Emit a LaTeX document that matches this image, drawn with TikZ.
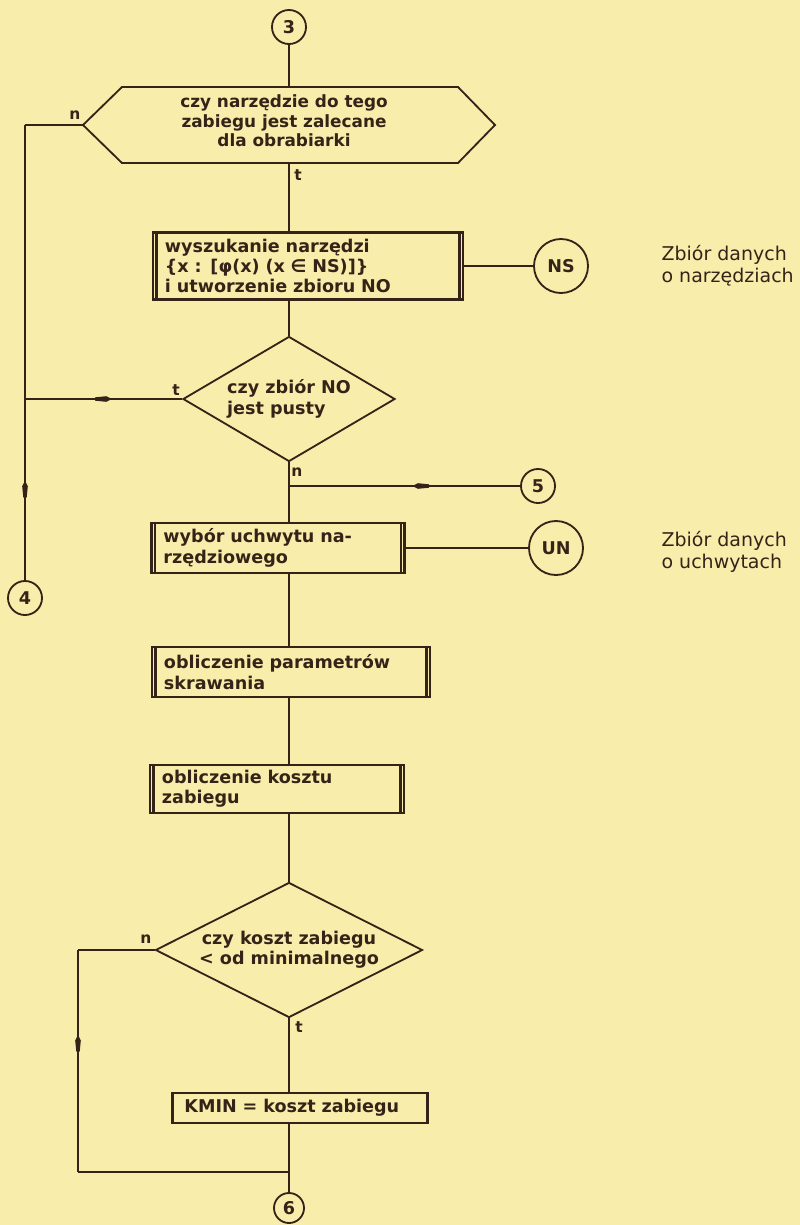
\documentclass[tikz,border=0pt]{standalone}
\usepackage{fontspec}
\setmainfont{DejaVu Sans}
\usetikzlibrary{shapes.geometric, decorations.markings}
\definecolor{paper}{RGB}{249,237,172}
\definecolor{ink}{RGB}{52,36,24}

\begin{document}
\begin{tikzpicture}[x=0.025cm, y=-0.025cm, color=ink, line width=1.3pt,
    proc/.style={draw, rectangle, line width=1.7pt, align=left, inner xsep=0.3cm, inner ysep=1pt,
      font=\bfseries\fontsize{12.5}{14.5}\selectfont},
    test/.style={draw, diamond, line width=1.3pt, inner sep=0pt,
      font=\bfseries\fontsize{12.5}{14.5}\selectfont},
    conn/.style={draw, circle, line width=1.3pt, inner sep=0pt, minimum size=0.85cm,
      font=\bfseries\fontsize{12.5}{12.5}\selectfont},
    store/.style={conn, minimum size=1.35cm},
    note/.style={anchor=west, align=left, font=\fontsize{13.5}{15.5}\selectfont},
    lbl/.style={inner sep=1pt, font=\bfseries\fontsize{11}{11}\selectfont},
    flow/.style={postaction=decorate, decoration={markings,
      mark=at position #1 with {\fill (-6pt,0pt) -- (-2pt,2pt) -- (6pt,1.2pt)
        -- (6pt,-1.2pt) -- (-2pt,-2pt) -- cycle;}}}]
    \fill[paper] (0,0) rectangle (800,1225);
    \useasboundingbox (0,0) rectangle (800,1225);

    % main column
    \node[conn] (c3) at (289, 27) {3};
    \coordinate (hexW) at (83, 125);
    \coordinate (hexN) at (289, 87);
    \coordinate (hexS) at (289, 163);
    \draw (hexW) -- (122, 87) -- (458, 87) -- (495, 125)
      -- (458, 163) -- (122, 163) -- cycle;
    \node[align=center, font=\bfseries\fontsize{12}{14}\selectfont] (hex) at (284, 121)
      {czy narzędzie do tego\\zabiegu jest zalecane\\dla obrabiarki};
    \node[proc, minimum width=7.75cm, text width=7.15cm, minimum height=1.675cm] (box1) at (308, 266)
      {wyszukanie narzędzi\\\{x : [φ(x) (x ∈ NS)]\}\\i utworzenie zbioru NO};
    \node[store] (NS) at (561, 266) {NS};
    \node[test, aspect=1.7, minimum width=5.3cm, minimum height=3.125cm, align=left] (dia1) at (289, 399)
      {czy zbiór NO\\jest pusty};
    \node[conn] (c5) at (538, 486) {5};
    \node[proc, minimum width=6.325cm, text width=5.725cm, minimum height=1.25cm] (box2) at (278, 548)
      {wybór uchwytu na-\\rzędziowego};
    \node[store] (UN) at (556, 548) {UN};
    \node[conn] (c4) at (25, 598) {4};
    \node[proc, minimum width=6.95cm, text width=6.35cm, minimum height=1.25cm] (box3) at (291, 672)
      {obliczenie parametrów\\skrawania};
    \node[proc, minimum width=6.35cm, text width=5.75cm, minimum height=1.2cm] (box4) at (277, 789)
      {obliczenie kosztu\\zabiegu};
    \node[test, aspect=2, minimum width=6.675cm, minimum height=3.375cm, align=center] (dia2) at (289, 950)
      {czy koszt zabiegu\\< od minimalnego};
    \node[proc, minimum width=6.375cm, text width=5.775cm, minimum height=0.75cm] (kmin) at (300, 1108)
      {KMIN = koszt zabiegu};
    \node[conn, minimum size=0.75cm] (c6) at (289, 1208) {6};

    % data sets
    \node[note] (noteNS) at (656, 266) {Zbiór danych\\o narzędziach};
    \node[note] (noteUN) at (656, 552) {Zbiór danych\\o uchwytach};

    % double sides of the boxes
    \foreach \b in {box1, box2, box3, box4}
      \draw[line width=1.7pt] ([xshift=3.5pt]\b.north west) -- ([xshift=3.5pt]\b.south west)
        ([xshift=-3.5pt]\b.north east) -- ([xshift=-3.5pt]\b.south east);

    \coordinate (j4) at (25, 125);
    \coordinate (j5) at (289, 486);
    \coordinate (jl1) at (78, 950);
    \coordinate (jl2) at (78, 1172);

    \draw (c3) -- (hexN);
    \draw (hexW) -- (j4);
    \draw[flow=0.8] (j4) -- (c4);
    \draw (hexS) -- (box1.north -| c3);
    \draw (box1.east) -- (NS);
    \draw (box1.south -| c3) -- (dia1.north);
    \draw[flow=0.5] (dia1.west) -- (dia1.west -| j4);
    \draw (dia1.south) -- (box2.north -| c3);
    \draw[flow=0.57] (j5) -- (c5);
    \draw (box2.east) -- (UN);
    \draw (box2.south -| c3) -- (box3.north -| c3);
    \draw (box3.south -| c3) -- (box4.north -| c3);
    \draw (box4.south -| c3) -- (dia2.north);
    \draw (dia2.south) -- (kmin.north -| c3);
    \draw (kmin.south -| c3) -- (c6);
    \draw (dia2.west) -- (jl1);
    \draw[flow=0.42] (jl1) -- (jl2);
    \draw (jl2) -- (jl2 -| c6);

    \node[lbl] (n1) at (75, 115) {n};
    \node[lbl] (t1) at (298, 175) {t};
    \node[lbl] (t2) at (176, 390) {t};
    \node[lbl] (n2) at (297, 472) {n};
    \node[lbl] (n3) at (146, 939) {n};
    \node[lbl] (t3) at (299, 1027) {t};
\end{tikzpicture}
\end{document}
